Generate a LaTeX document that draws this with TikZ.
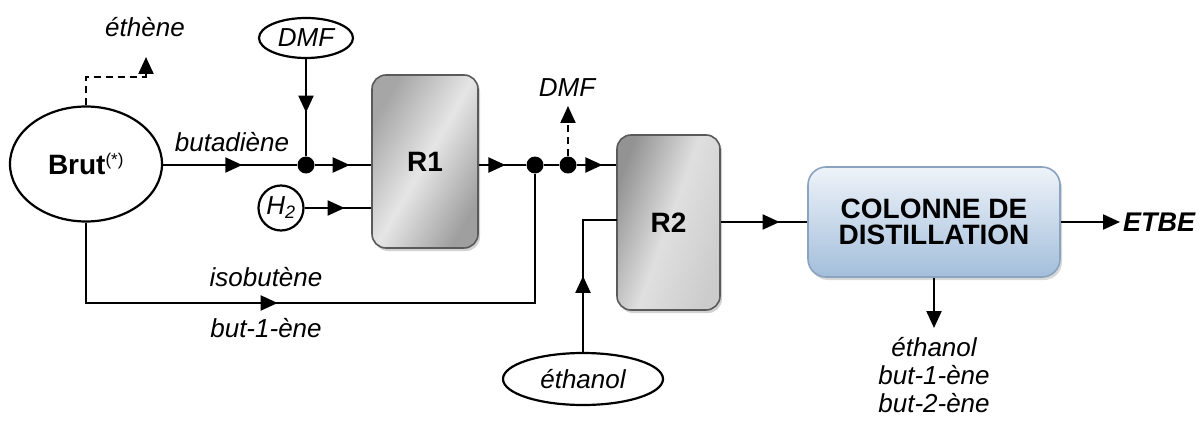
\documentclass[tikz,border=0pt]{standalone}
\usepackage{fontspec}
\setmainfont{Liberation Sans}
\usetikzlibrary{shapes.geometric, arrows.meta, decorations.markings, shadows}

\definecolor{reactorline}{HTML}{5A5A5A}
\definecolor{coltop}{HTML}{EEF3F9}
\definecolor{colbot}{HTML}{A3BEDB}
\definecolor{colline}{HTML}{8AA3BE}

\tikzset{
  flow/.style={line width=2.2pt},
  tipend/.style={-{Triangle[length=17pt,width=15pt]}},
  arrowat/.style={postaction={decorate},
    decoration={markings, mark=at position #1 with {\arrow{Triangle[length=17pt,width=15pt]}}}},
  vent/.style={flow, dash pattern=on 7pt off 5pt},
  lbl/.style={font=\fontsize{26}{28}\selectfont\itshape},
  bigb/.style={font=\fontsize{28}{30}\selectfont\bfseries},
  feed/.style={ellipse, draw, line width=2.2pt, inner sep=0pt, lbl},
  junction/.style={circle, fill=black, inner sep=0pt, minimum size=17pt},
  reactor/.style={rectangle, rounded corners=14pt, draw=reactorline, line width=1.6pt,
    bigb, drop shadow={shadow xshift=2pt, shadow yshift=-3pt, opacity=0.35}},
  column/.style={rectangle, rounded corners=18pt, draw=colline, line width=1.6pt,
    top color=coltop, bottom color=colbot, bigb, align=center,
    drop shadow={shadow xshift=2pt, shadow yshift=-3pt, opacity=0.3}},
}

\begin{document}
\begin{tikzpicture}[x=1pt, y=-1pt]
  \useasboundingbox[fill=white] (0,0) rectangle (1204,425);

  % feeds
  \node[feed, minimum width=152pt, minimum height=115pt, font=\fontsize{28}{30}\selectfont\bfseries] (brut) at (86,164)
    {Brut\textsuperscript{\fontsize{17}{18}\selectfont\mdseries(*)}};
  \node[feed, minimum width=94pt, minimum height=40pt] (dmf) at (306,38) {DMF};
  \node[feed, circle, minimum size=45pt] (h2) at (281,208) {H\textsubscript{\fontsize{18}{20}\selectfont 2}};
  \node[feed, minimum width=160pt, minimum height=52pt] (eth) at (583,379) {éthanol};

  % reactors and column
  \node[reactor, minimum width=106pt, minimum height=173pt,
        left color=gray!70, right color=gray!75, middle color=gray!20, shading angle=60] (r1) at (425,161.5) {R1};
  \node[reactor, minimum width=103pt, minimum height=175pt,
        left color=gray!85, right color=gray!40, middle color=gray!25, shading angle=70] (r2) at (668.5,222.5) {R2};
  \node[column, minimum width=252pt, minimum height=110pt] (col) at (934,222)
    {COLONNE DE\\[-4pt]DISTILLATION};

  % junctions
  \node[junction] (j1) at (306,165) {};
  \node[junction] (j2) at (535,165) {};
  \node[junction] (j3) at (568,165) {};

  % auxiliary points
  \coordinate (ethk) at (146,77);
  \coordinate (ethtip) at (146,57);
  \coordinate (ib) at (535,303);
  \coordinate (ein) at (617,220);
  \coordinate (dmfv) at (568,106);
  \coordinate (etbe) at (1120,222);
  \coordinate (bot) at (934,328);

  % streams
  \draw[vent, tipend] (brut.north) |- (ethk) -- (ethtip);
  \draw[flow, arrowat=0.59] (brut.east |- j1) -- (j1);
  \draw[flow, arrowat=0.55] (dmf.south) -- (j1);
  \draw[flow, arrowat=0.62] (j1) -- (j1 -| r1.west);
  \draw[flow, arrowat=0.6] (h2.east) -- (h2 -| r1.west);
  \draw[flow, arrowat=0.56] (r1.east |- j2) -- (j2);
  \draw[flow] (j2) -- (j3);
  \draw[flow, arrowat=0.65] (j3) -- (j3 -| r2.west);
  \draw[vent, tipend] (j3) -- (dmfv);
  \draw[flow, arrowat=272pt] (brut.south) |- (ib) -- (j2);
  \draw[flow, arrowat=76pt] (eth.north) |- (ein);
  \draw[flow, arrowat=0.68] (r2.east |- col.west) -- (col.west);
  \draw[flow, tipend] (col.east) -- (etbe);
  \draw[flow, tipend] (col.south) -- (bot);

  % stream labels
  \node[lbl] (tethene) at (145,27) {éthène};
  \node[lbl] (tbuta) at (232,142) {butadiène};
  \node[lbl] (tdmf) at (567,88) {DMF};
  \node[lbl] (tiso) at (266,277) {isobutène};
  \node[lbl] (tbut1) at (266,328) {but-1-ène};
  \node[font=\fontsize{27}{30}\selectfont\bfseries\itshape, anchor=west, inner sep=0pt] (tetbe) at (1123,222) {ETBE};
  \node[lbl, align=center, anchor=north, inner sep=0pt] (tbot) at (934,337)
    {éthanol\\but-1-ène\\but-2-ène};
\end{tikzpicture}
\end{document}
